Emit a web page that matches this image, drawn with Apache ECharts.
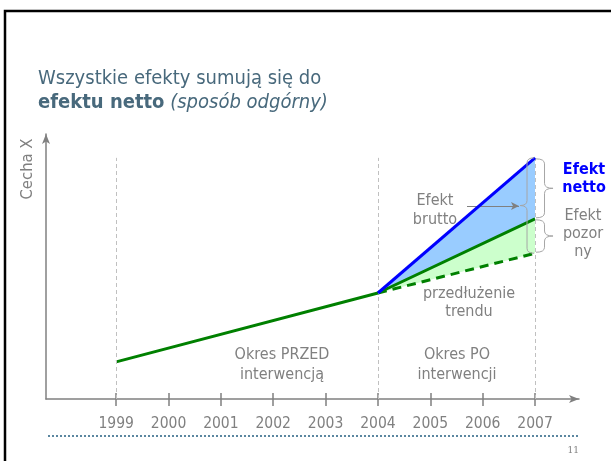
<!DOCTYPE html>
<html lang="pl">
<head>
<meta charset="UTF-8">
<title>Efekt netto</title>
<script src="https://cdn.jsdelivr.net/npm/echarts@6/dist/echarts.min.js"></script>
<style>
  html, body { margin: 0; padding: 0; background: #fff; }
  #main { width: 611px; height: 461px; }
</style>
</head>
<body>
<div id="main"></div>
<script>
// dane (oś Y w umownych jednostkach 0-100)
var tickYears = [1999, 2000, 2001, 2002, 2003, 2004, 2005, 2006, 2007];
var guideYears = [1999, 2004, 2007];

var faktX = [1999, 2004, 2007];      // linia zielona ciągła
var faktY = [14, 40, 68];
var bruttoX = [2004, 2007];          // linia niebieska
var bruttoY = [40, 91];
var trendX = [2004, 2007];           // przedłużenie trendu (przerywana)
var trendY = [40, 55];

var FONT = '"DejaVu Sans Condensed", "DejaVu Sans", Verdana, sans-serif';
var GREY = '#808080';

function pairs(xs, ys) {
  return xs.map(function (x, i) { return [x, ys[i]]; });
}
var fakt = pairs(faktX, faktY);
var brutto = pairs(bruttoX, bruttoY);
var trend = pairs(trendX, trendY);
var faktPo = fakt.filter(function (p) { return p[0] >= 2004; });

// wielokąty wypełnień
var blueArea = brutto.concat(faktPo.slice().reverse());
var greenArea = faktPo.concat(trend.slice().reverse());

var last = function (a) { return a[a.length - 1]; };
var braces = [
  [2007, last(bruttoY), last(trendY)],
  [2007, last(bruttoY), last(faktY)],
  [2007, last(faktY), last(trendY)]
];

function polygonSeries(data, color) {
  return {
    type: 'custom',
    data: data,
    z: 1,
    silent: true,
    clip: false,
    encode: { x: 0, y: 1 },
    renderItem: function (params, api) {
      if (params.dataIndex !== 0) return;
      var pts = data.map(function (p) { return api.coord(p); });
      return { type: 'polygon', shape: { points: pts }, style: { fill: color } };
    }
  };
}

function bracePath(x0, y1, y2, d, w) {
  var ym = (y1 + y2) / 2;
  var xm = x0 + d * w / 2;
  var r = 5;
  return 'M' + x0 + ',' + y1 +
    ' Q' + xm + ',' + y1 + ' ' + xm + ',' + (y1 + r) +
    ' L' + xm + ',' + (ym - r) +
    ' Q' + xm + ',' + ym + ' ' + (x0 + d * w) + ',' + ym +
    ' Q' + xm + ',' + ym + ' ' + xm + ',' + (ym + r) +
    ' L' + xm + ',' + (y2 - r) +
    ' Q' + xm + ',' + y2 + ' ' + x0 + ',' + y2;
}

var chart = echarts.init(document.getElementById('main'));

chart.setOption({
  animation: false,
  backgroundColor: '#fff',
  grid: { left: 46, right: 32, top: 134, bottom: 62, outerBoundsMode: 'none' },
  xAxis: [{
    type: 'value',
    min: 1997.66,
    max: 2007.84,
    splitLine: { show: false },
    axisLine: {
      show: true,
      symbol: ['none', 'arrow'],
      symbolSize: [6, 10],
      lineStyle: { color: GREY, width: 1.5 }
    },
    axisTick: {
      show: true,
      customValues: tickYears,
      length: 7,
      lineStyle: { color: GREY, width: 1.5 }
    },
    axisLabel: {
      customValues: tickYears,
      formatter: function (v) { return String(v); },
      color: GREY,
      fontSize: 15.5,
      fontFamily: FONT,
      margin: 17
    }
  }, {
    type: 'value',
    position: 'bottom',
    min: 1997.66,
    max: 2007.84,
    splitLine: { show: false },
    axisLine: { show: false },
    axisTick: {
      show: true,
      inside: true,
      customValues: tickYears,
      length: 6,
      lineStyle: { color: GREY, width: 1.5 }
    },
    axisLabel: { show: false }
  }],
  yAxis: {
    type: 'value',
    min: 0,
    max: 100,
    splitLine: { show: false },
    axisTick: { show: false },
    axisLabel: { show: false },
    axisLine: {
      show: true,
      symbol: ['none', 'arrow'],
      symbolSize: [6, 10],
      lineStyle: { color: GREY, width: 1.5 }
    }
  },
  series: [
    polygonSeries(blueArea, '#99ccff'),
    polygonSeries(greenArea, '#ccffcc'),
    {
      type: 'line',
      data: [],
      silent: true,
      markLine: {
        silent: true,
        symbol: 'none',
        label: { show: false },
        lineStyle: { color: '#c0c0c0', width: 1, type: [4, 3] },
        data: guideYears.map(function (y) {
          return [{ coord: [y, 0] }, { coord: [y, last(bruttoY)] }];
        })
      }
    },
    {
      type: 'line',
      data: trend,
      showSymbol: false,
      z: 3,
      lineStyle: { color: '#008000', width: 3, type: [9, 6] }
    },
    {
      type: 'line',
      data: fakt,
      showSymbol: false,
      z: 4,
      lineStyle: { color: '#008000', width: 3 }
    },
    {
      type: 'line',
      data: brutto,
      showSymbol: false,
      z: 5,
      lineStyle: { color: '#0000ff', width: 3 },
      markLine: {
        silent: true,
        symbol: ['none', 'arrow'],
        symbolSize: [6, 8],
        label: { show: false },
        lineStyle: { color: GREY, width: 1, type: 'solid' },
        data: [[{ x: 467, y: 206 }, { x: 519, y: 206 }]]
      }
    },
    {
      type: 'custom',
      data: braces,
      z: 6,
      silent: true,
      clip: false,
      encode: { x: 0, y: [1, 2] },
      renderItem: function (params, api) {
        var a = api.coord([api.value(0), api.value(1)]);
        var b = api.coord([api.value(0), api.value(2)]);
        var left = params.dataIndex === 0;
        var x0 = left ? a[0] - 1 : a[0] + 1;
        var path = left ? bracePath(x0, a[1], b[1], -1, 14)
                        : bracePath(x0, a[1] + 1, b[1] - 1, 1, 17);
        return {
          type: 'path',
          shape: { pathData: path },
          style: { fill: 'none', stroke: '#a6a6a6', lineWidth: 1 }
        };
      }
    }
  ],
  graphic: [
    { type: 'rect', shape: { x: 5, y: 11, width: 700, height: 500 },
      style: { fill: 'none', stroke: '#000', lineWidth: 2.5 } },
    { type: 'text', x: 38, y: 79,
      style: { text: 'Wszystkie efekty sumują się do', fill: '#48697c',
        fontSize: 20, fontFamily: FONT, verticalAlign: 'middle' } },
    { type: 'text', x: 38, y: 103,
      style: { text: '{b|efektu netto} {i|(sposób odgórny)}', fill: '#48697c',
        fontSize: 20, fontFamily: FONT, verticalAlign: 'middle',
        rich: {
          b: { fontWeight: 'bold', fontSize: 20, fontFamily: FONT, fill: '#48697c' },
          i: { fontStyle: 'italic', fontSize: 20, fontFamily: FONT, fill: '#48697c' }
        } } },
    { type: 'text', x: 28, y: 169, rotation: Math.PI / 2,
      style: { text: 'Cecha X', fill: GREY, fontSize: 16.5, fontFamily: FONT,
        align: 'center', verticalAlign: 'middle' } },
    { type: 'text', x: 435, y: 210,
      style: { text: 'Efekt\nbrutto', fill: GREY, fontSize: 16, lineHeight: 19,
        fontFamily: FONT, align: 'center', verticalAlign: 'middle' } },
    { type: 'text', x: 584, y: 179,
      style: { text: 'Efekt\nnetto', fill: '#0000ff', fontSize: 16, fontWeight: 'bold',
        lineHeight: 18, fontFamily: FONT, align: 'center', verticalAlign: 'middle' } },
    { type: 'text', x: 583, y: 234,
      style: { text: 'Efekt\npozor\nny', fill: GREY, fontSize: 16, lineHeight: 18,
        fontFamily: FONT, align: 'center', verticalAlign: 'middle' } },
    { type: 'text', x: 469, y: 303,
      style: { text: 'przedłużenie\ntrendu', fill: GREY, fontSize: 16, lineHeight: 18,
        fontFamily: FONT, align: 'center', verticalAlign: 'middle' } },
    { type: 'text', x: 282, y: 365,
      style: { text: 'Okres PRZED\ninterwencją', fill: GREY, fontSize: 16, lineHeight: 20,
        fontFamily: FONT, align: 'center', verticalAlign: 'middle' } },
    { type: 'text', x: 457, y: 365,
      style: { text: 'Okres PO\ninterwencji', fill: GREY, fontSize: 16, lineHeight: 20,
        fontFamily: FONT, align: 'center', verticalAlign: 'middle' } },
    { type: 'line', shape: { x1: 48, y1: 436, x2: 580, y2: 436 },
      style: { stroke: '#5b87a0', lineWidth: 2, lineDash: [2, 2] } },
    { type: 'text', x: 579, y: 451,
      style: { text: '11', fill: GREY, fontSize: 9, fontFamily: '"DejaVu Serif", serif',
        align: 'right', verticalAlign: 'middle' } }
  ]
});
</script>
</body>
</html>
